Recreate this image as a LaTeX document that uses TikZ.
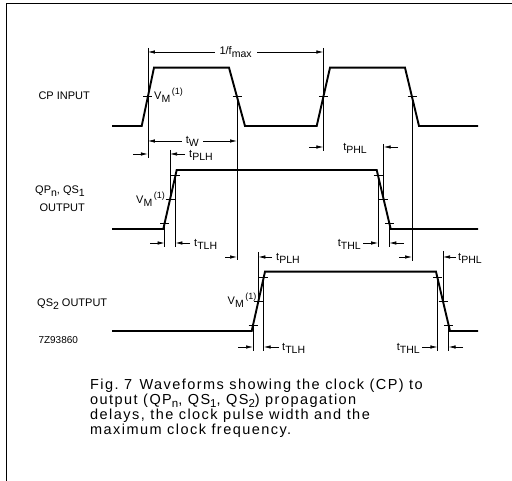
\documentclass[tikz,border=0pt]{standalone}
\usepackage{fontspec}
\setmainfont{Liberation Sans}
\newfontfamily\capfont[LetterSpace=10]{Liberation Sans}
\usetikzlibrary{arrows.meta}

% lowered / raised indices in the waveform labels
\newcommand{\wlo}[1]{\raisebox{-3pt}{\fontsize{10.5}{10.5}\selectfont #1}}
\newcommand{\whi}[1]{\raisebox{5pt}{\fontsize{9}{9}\selectfont\,#1}}
\newcommand{\vmid}{V\wlo{M}\whi{(1)}}
\newcommand{\csub}[1]{\raisebox{-2.5pt}{\fontsize{11.5}{11.5}\selectfont #1}}

\begin{document}
\begin{tikzpicture}[x=1pt, y=-1pt,
    wave/.style={line width=1.9pt, line join=miter},
    refl/.style={line width=0.7pt},
    tck/.style={line width=0.8pt},
    dim/.style={line width=0.7pt, -{Latex[length=7pt,width=3.5pt]}},
    dimboth/.style={line width=0.7pt, {Latex[length=7pt,width=3.5pt]}-{Latex[length=7pt,width=3.5pt]}},
    lbl/.style={font=\fontsize{11}{13}\selectfont, inner sep=0pt}]
    \useasboundingbox (0,0) rectangle (512,481);
    \draw[line width=1.2pt] (6.5,481) -- (6.5,3.5) -- (512,3.5);

    % CP input
    \draw[wave] (112,126) -- (141.7,126) -- (154,67.7) -- (229,67.7) -- (245,126) -- (316.7,126) -- (330,67.7) -- (405,67.7) -- (419,126) -- (478,126);
    \foreach \x in {147.85,237,323.35,412}
        \draw[tck] (\x-4.5,96.85) -- (\x+4.5,96.85);

    % QPn, QS1 output
    \draw[wave] (112,229) -- (163.3,229) -- (176.7,170) -- (376.7,170) -- (390.7,229) -- (478,229);
    \foreach \x/\y in {164.6/223.1,170/199.5,175.4/175.9,378.1/175.9,383.7/199.5,389.3/223.1}
        \draw[tck] (\x-4.5,\y) -- (\x+4.5,\y);

    % QS2 output
    \draw[wave] (112,331) -- (251.7,331) -- (265,271.7) -- (436,271.7) -- (450,331) -- (478,331);
    \foreach \x/\y in {253/325.1,258.35/301.35,263.7/277.6,437.4/277.6,443/301.35,448.6/325.1}
        \draw[tck] (\x-4.5,\y) -- (\x+4.5,\y);

    % reference lines
    \draw[refl] (147.85,48) -- (147.85,158);
    \draw[refl] (237,96.85) -- (237,260);
    \draw[refl] (323.35,48) -- (323.35,151);
    \draw[refl] (412,96.85) -- (412,261);
    \draw[refl] (170,150) -- (170,199.5);
    \draw[refl] (164.6,223.1) -- (164.6,247);
    \draw[refl] (175.4,175.9) -- (175.4,247);
    \draw[refl] (383.7,144) -- (383.7,199.5);
    \draw[refl] (378.1,175.9) -- (378.1,247);
    \draw[refl] (389.3,223.1) -- (389.3,247);
    \draw[refl] (258.35,252) -- (258.35,301.35);
    \draw[refl] (253,325.1) -- (253,351);
    \draw[refl] (263.7,277.6) -- (263.7,351);
    \draw[refl] (443,251) -- (443,301.35);
    \draw[refl] (437.4,277.6) -- (437.4,351);
    \draw[refl] (448.6,325.1) -- (448.6,351);

    % timing arrows
    \draw[dimboth] (147.85,52) -- (323.35,52)
        node[lbl, midway, fill=white, inner xsep=5pt, inner ysep=2pt] (fmax) {1/f\wlo{max}};
    \draw[dimboth] (147.85,141) -- (237,141)
        node[lbl, pos=0.5, fill=white, inner xsep=4pt, inner ysep=2pt] (tw) {t\wlo{W}};

    \draw[dim] (133,154) -- (147.85,154);
    \draw[dim] (185,154) -- (170,154);
    \node[lbl, anchor=base west] (plha) at (189,158) {t\wlo{PLH}};
    \draw[dim] (309,147) -- (323.35,147);
    \draw[dim] (398,147) -- (383.7,147);
    \node[lbl, anchor=base] (phla) at (355,151) {t\wlo{PHL}};
    \draw[dim] (150,243) -- (164.6,243);
    \draw[dim] (190,243) -- (175.4,243);
    \node[lbl, anchor=base west] (tlha) at (194,247) {t\wlo{TLH}};
    \draw[dim] (363,243) -- (378.1,243);
    \draw[dim] (404,243) -- (389.3,243);
    \node[lbl, anchor=base east] (thla) at (361,247) {t\wlo{THL}};

    \draw[dim] (225,257) -- (237,257);
    \draw[dim] (272,257) -- (258.35,257);
    \node[lbl, anchor=base west] (plhb) at (276,261) {t\wlo{PLH}};
    \draw[dim] (399,257) -- (412,257);
    \draw[dim] (456,257) -- (443,257);
    \node[lbl, anchor=base west] (phlb) at (458,261) {t\wlo{PHL}};
    \draw[dim] (238,347) -- (253,347);
    \draw[dim] (279,347) -- (263.7,347);
    \node[lbl, anchor=base west] (tlhb) at (282,351) {t\wlo{TLH}};
    \draw[dim] (422,347) -- (437.4,347);
    \draw[dim] (463,347) -- (448.6,347);
    \node[lbl, anchor=base east] (thlb) at (420,351) {t\wlo{THL}};

    % switching level labels
    \node[lbl, anchor=base west] (vmcp) at (154,100) {\vmid};
    \node[lbl, anchor=base east] (vmqp) at (165,204) {\vmid};
    \node[lbl, anchor=base east] (vmqs) at (256.5,305) {\vmid};

    % signal names
    \node[lbl, anchor=base west] (cp) at (38.3,100) {CP INPUT};
    \node[lbl, anchor=base east] (qp) at (85,194) {QP\wlo{n}, QS\wlo{1}};
    \node[lbl, anchor=base east] (qpout) at (85,211.7) {OUTPUT};
    \node[lbl, anchor=base west] (qs) at (37,307) {QS\wlo{2} OUTPUT};
    \node[lbl, anchor=base west, font=\fontsize{10}{12}\selectfont] (code) at (38.3,344) {7Z93860};

    % caption
    \node[inner sep=0pt, anchor=north west, align=left, font=\capfont\fontsize{14.5}{15}\selectfont] (cap) at (90,379)
        {Fig.~7\enspace Waveforms showing the clock (CP) to\\
         output (QP\csub{n}, QS\csub{1}, QS\csub{2}) propagation\\
         delays, the clock pulse width and the\\
         maximum clock frequency.};
\end{tikzpicture}
\end{document}
